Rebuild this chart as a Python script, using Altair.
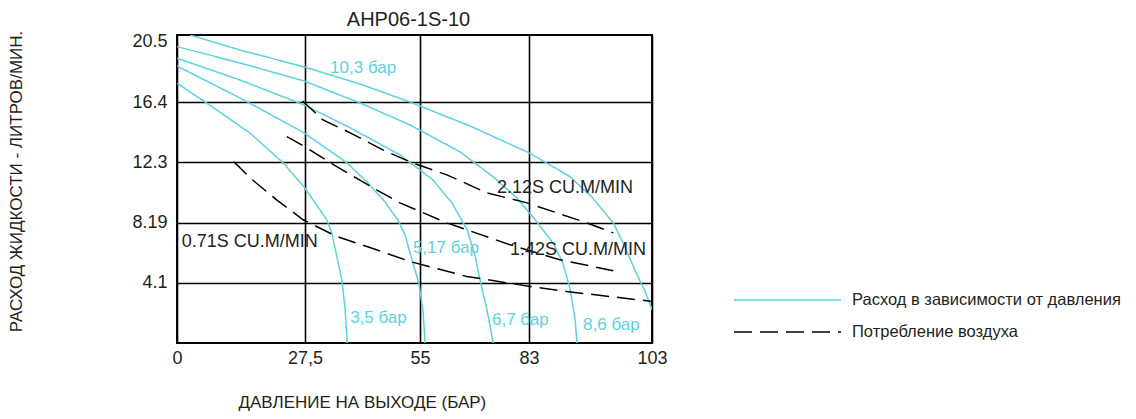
import altair as alt
import pandas as pd

# ---------------- data ----------------
X_TICKS = [0, 27.5, 55, 83, 103]
Y_TICKS = [4.1, 8.19, 12.3, 16.4, 20.5]

KIND_FLOW = "Расход в зависимости от давления"
KIND_AIR = "Потребление воздуха"

# flow curves (pressure of supply air)
flow_10_3_x = [2.8, 13.5, 27.3, 40.6, 52.6, 67.8, 83.0, 89.7, 93.2, 96.7, 98.3, 100.2, 101.9, 103.0]
flow_10_3_y = [20.97, 19.95, 18.80, 17.64, 16.41, 14.78, 12.95, 11.31, 9.95, 8.18, 6.82, 4.99, 3.49, 2.27]

flow_8_6_x = [0, 13.5, 27.3, 40.6, 52.6, 65.3, 73.8, 79.9, 84.0, 86.9, 88.5, 89.7, 90.5, 90.8]
flow_8_6_y = [20.18, 19.07, 17.84, 16.35, 14.85, 13.01, 11.31, 9.88, 8.39, 6.82, 5.46, 3.63, 1.59, 0]

flow_6_7_x = [0, 13.5, 27.3, 38.3, 50.2, 58.3, 63.2, 67.1, 69.1, 70.4, 72.2, 73.8]
flow_6_7_y = [19.39, 17.91, 16.21, 14.65, 12.81, 11.11, 9.54, 7.71, 6.01, 4.31, 2.27, 0]

flow_5_17_x = [0, 13.5, 27.3, 37.5, 42.3, 46.6, 49.7, 51.4, 53.1, 54.8, 55.8, 56.3]
flow_5_17_y = [18.86, 16.69, 14.31, 12.27, 10.97, 9.61, 8.39, 7.37, 5.67, 3.97, 2.13, 0]

flow_3_5_x = [0, 6.4, 15.7, 22.8, 27.3, 32.7, 33.9, 36.3, 37.1, 37.6]
flow_3_5_y = [17.69, 16.33, 14.29, 12.27, 10.63, 8.39, 7.50, 4.31, 2.27, 0]

# air consumption curves
air_2_12_x = [27.0, 31.8, 38.3, 46.1, 52.6, 61.9, 72.2, 82.5, 92.4, 96.7]
air_2_12_y = [16.48, 15.19, 14.31, 13.15, 12.33, 11.45, 10.22, 9.54, 8.18, 7.50]

air_1_42_x = [23.6, 27.9, 35.1, 44.6, 50.2, 61.9, 78.1, 88.0, 96.7]
air_1_42_y = [14.05, 13.29, 12.01, 10.43, 9.54, 8.18, 6.69, 5.67, 4.92]

air_0_71_x = [12.2, 15.7, 21.4, 27.1, 35.1, 44.6, 52.6, 67.0, 83.2, 89.1, 103.0]
air_0_71_y = [12.35, 11.24, 9.75, 8.39, 7.25, 6.35, 5.55, 4.53, 3.85, 3.51, 2.83]

# annotations
cyan_text = ["10,3 бар", "5,17 бар", "3,5 бар", "6,7 бар", "8,6 бар"]
cyan_text_x = [33.5, 53.3, 38.3, 73.5, 91.8]
cyan_text_y = [18.69, 6.45, 1.69, 1.59, 1.24]

black_text = ["2.12S CU.M/MIN", "1.42S CU.M/MIN", "0.71S CU.M/MIN"]
black_text_x = [74.8, 78.1, 1.0]
black_text_y = [10.56, 6.35, 6.86]

# ---------------- tables ----------------
series = [
    ("10,3 бар", KIND_FLOW, flow_10_3_x, flow_10_3_y),
    ("8,6 бар", KIND_FLOW, flow_8_6_x, flow_8_6_y),
    ("6,7 бар", KIND_FLOW, flow_6_7_x, flow_6_7_y),
    ("5,17 бар", KIND_FLOW, flow_5_17_x, flow_5_17_y),
    ("3,5 бар", KIND_FLOW, flow_3_5_x, flow_3_5_y),
    ("2.12", KIND_AIR, air_2_12_x, air_2_12_y),
    ("1.42", KIND_AIR, air_1_42_x, air_1_42_y),
    ("0.71", KIND_AIR, air_0_71_x, air_0_71_y),
]
rows = []
for name, kind, xs, ys in series:
    for i, (xv, yv) in enumerate(zip(xs, ys)):
        rows.append({"curve": name, "kind": kind, "x": xv, "y": yv, "idx": i})
df = pd.DataFrame(rows)

cyan_df = pd.DataFrame({"text": cyan_text, "x": cyan_text_x, "y": cyan_text_y})
black_df = pd.DataFrame({"text": black_text, "x": black_text_x, "y": black_text_y})

# ---------------- styling ----------------
CYAN = "#5ad3dd"
INK = "#231f20"
FONT = "Liberation Sans"

x_scale = alt.Scale(domain=X_TICKS, range=[0, 128, 243, 352, 475], nice=False)
y_scale = alt.Scale(domain=[0, 20.97], nice=False, zero=False)

x_axis = alt.Axis(
    values=X_TICKS,
    labelExpr="replace(datum.value + '', '.', ',')",
    labelFontSize=18, labelColor=INK, labelFont=FONT, labelPadding=6,
    labelFlush=False,
    ticks=False, domain=False,
    grid=True, gridColor="#000000", gridWidth=1.6,
    title="ДАВЛЕНИЕ НА ВЫХОДЕ (БАР)",
    titleFont=FONT, titleFontSize=17, titleFontWeight="normal", titleColor=INK,
    titleAnchor="start", titleAlign="left", titleBaseline="alphabetic",
    titleX=61, titleY=64,
)
y_axis = alt.Axis(
    values=Y_TICKS,
    labelExpr="datum.value + ''",
    labelFontSize=18, labelColor=INK, labelFont=FONT, labelPadding=10,
    labelFlush=False,
    ticks=False, domain=False,
    grid=True, gridColor="#000000", gridWidth=1.6,
    gridOpacity={"expr": "datum.value > 20 ? 0 : 1"},
    title="РАСХОД ЖИДКОСТИ - ЛИТРОВ/МИН.",
    titleFont=FONT, titleFontSize=17, titleFontWeight="normal", titleColor=INK,
    titleAngle=-90, titleAlign="center", titleBaseline="middle",
    titleX=-161, titleY=146,
)

kind_domain = [KIND_FLOW, KIND_AIR]
legend = alt.Legend(
    title=None, orient="none", legendX=556, legendY=255,
    symbolType="stroke", symbolSize=11449, symbolStrokeWidth=1.6,
    clipHeight=20, rowPadding=12, padding=0,
    labelFontSize=16.5, labelFont=FONT, labelColor=INK, labelOffset=10, labelLimit=0,
)

lines = alt.Chart(df).mark_line(strokeWidth=1.5, clip=True).encode(
    x=alt.X("x:Q", scale=x_scale, axis=x_axis),
    y=alt.Y("y:Q", scale=y_scale, axis=y_axis),
    color=alt.Color("kind:N", scale=alt.Scale(domain=kind_domain, range=[CYAN, "#000000"]), legend=legend),
    strokeDash=alt.StrokeDash("kind:N", scale=alt.Scale(domain=kind_domain, range=[[1, 0], [18, 8]]), legend=legend),
    detail="curve:N",
    order="idx:Q",
)

cyan_labels = alt.Chart(cyan_df).mark_text(
    align="left", baseline="middle", fontSize=17, font=FONT, color=CYAN
).encode(x="x:Q", y="y:Q", text="text:N")

black_labels = alt.Chart(black_df).mark_text(
    align="left", baseline="middle", fontSize=18, font=FONT, color=INK
).encode(x="x:Q", y="y:Q", text="text:N")

chart = alt.layer(lines, cyan_labels, black_labels).properties(
    width=475, height=308,
    padding={"left": 169, "top": 27, "right": 476, "bottom": 68},
    autosize=alt.AutoSizeParams(type="none"),
    title=alt.TitleParams(
        "AHP06-1S-10", fontSize=20, font=FONT, fontWeight="normal", color=INK,
        anchor="middle", frame="group", dx=-6, dy=24, offset=8, baseline="alphabetic",
    ),
).configure_view(stroke="#000000", strokeWidth=2)

chart.save("out.html", embed_options={"renderer": "svg", "actions": False})
